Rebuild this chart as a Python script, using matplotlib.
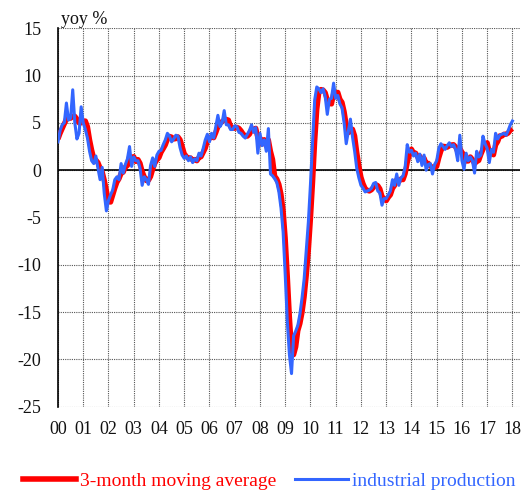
import numpy as np
import matplotlib
matplotlib.use("Agg")
import matplotlib.pyplot as plt
from matplotlib.lines import Line2D

plt.rcParams['font.family'] = ['Liberation Serif', 'DejaVu Serif']

start_year = 2000
year_labels = ['00', '01', '02', '03', '04', '05', '06', '07', '08', '09',
               '10', '11', '12', '13', '14', '15', '16', '17', '18']
y_ticks = [15, 10, 5, 0, -5, -10, -15, -20, -25]

# monthly industrial production, yoy % (Jan 2000 - Jan 2018)
industrial_production = [
    3.0, 4.2, 4.8, 5.0, 7.1, 5.3, 5.5, 8.5, 5.0, 3.3, 3.9, 6.7,
    5.0, 4.3, 3.4, 2.0, 1.0, 0.7, 1.5, 0.2, -1.0, 0.3, -2.5, -4.3,
    -3.2, -2.6, -2.1, -1.0, -0.7, -1.0, 0.7, -0.3, 0.6, 1.2, 2.5, 0.4,
    1.4, 1.0, 1.0, 0.2, -1.6, -0.7, -1.0, -1.5, 0.5, 1.3, 0.4, 1.6,
    2.0, 2.1, 2.7, 3.2, 3.9, 3.6, 3.0, 3.3, 3.7, 3.6, 2.4, 1.6,
    1.25, 1.5, 1.0, 1.4, 0.8, 1.2, 1.0, 1.8, 1.5, 2.3, 3.2, 3.8,
    3.0, 3.9, 3.4, 4.6, 5.8, 4.6, 5.0, 6.3, 4.8, 4.8, 4.3, 4.3,
    4.7, 4.6, 4.0, 3.9, 3.6, 3.4, 3.8, 4.2, 4.8, 4.0, 4.5, 1.8,
    3.9, 2.6, 3.2, 2.0, 4.4, -0.4, -0.6, -0.9, -1.3, -2.3, -4.0, -6.5,
    -11.0, -16.0, -19.5, -21.5, -17.5, -17.0, -16.4, -15.2, -13.5, -11.5, -8.5, -5.5,
    -1.5, 3.0, 7.4, 8.8, 8.6, 8.2, 8.6, 7.8, 5.9, 7.5, 7.6, 9.2,
    7.6, 7.9, 7.0, 6.6, 5.0, 2.8, 4.1, 5.4, 3.5, 2.0, 0.2, -0.8,
    -1.6, -1.9, -2.3, -2.2, -2.1, -1.9, -1.4, -1.3, -2.2, -2.4, -3.7, -3.0,
    -3.0, -2.6, -2.2, -1.0, -1.6, -0.4, -1.6, -0.8, -0.6, 0.3, 2.7, 1.9,
    2.1, 1.5, 1.8, 0.9, 1.7, 0.5, 1.6, 0.0, 0.6, 0.7, -0.4, 0.6,
    1.0, 2.3, 2.8, 2.5, 2.2, 2.6, 2.9, 2.5, 2.7, 2.2, 1.0, 3.7,
    1.0, 0.1, 1.8, 1.0, 1.4, 1.0, -0.3, 2.0, 1.4, 1.6, 3.6, 2.8,
    2.3, 0.8, 2.2, 1.9, 3.9, 3.3, 3.7, 3.8, 3.9, 3.7, 4.2, 4.8,
    5.2,
]

# 3-month moving average, yoy %
moving_average_3m = [
    3.3, 3.9, 4.4, 4.9, 5.4, 5.5, 5.5, 5.7, 5.7, 5.4, 5.0, 5.0,
    5.2, 5.2, 4.6, 3.23, 2.13, 1.23, 1.07, 0.8, 0.23, -0.17, -1.07, -2.17,
    -3.33, -3.37, -2.63, -1.9, -1.27, -0.9, -0.33, -0.2, 0.33, 0.5, 1.43, 1.37,
    1.43, 0.93, 1.13, 0.73, -0.13, -0.7, -1.1, -1.07, -0.67, 0.1, 0.73, 1.1,
    1.33, 1.9, 2.27, 2.67, 3.27, 3.57, 3.5, 3.3, 3.33, 3.53, 3.23, 2.53,
    1.75, 1.45, 1.25, 1.3, 1.07, 1.13, 1.0, 1.33, 1.43, 1.87, 2.33, 3.1,
    3.33, 3.57, 3.43, 3.97, 4.6, 5.0, 5.13, 5.3, 5.37, 5.3, 4.63, 4.47,
    4.43, 4.53, 4.43, 4.17, 3.83, 3.63, 3.6, 3.8, 4.27, 4.33, 4.43, 3.43,
    3.4, 2.77, 3.23, 2.6, 3.2, 2.0, 1.13, -0.63, -0.93, -1.5, -2.53, -4.27,
    -7.17, -11.17, -15.5, -19.0, -19.5, -18.67, -16.97, -16.2, -15.03, -13.4, -11.17, -8.5,
    -5.17, -1.33, 2.97, 6.4, 8.27, 8.53, 8.47, 8.2, 7.43, 7.07, 7.0, 8.1,
    8.13, 8.23, 7.5, 7.17, 6.2, 4.8, 3.97, 4.1, 4.33, 3.63, 1.9, 0.47,
    -0.73, -1.43, -1.93, -2.13, -2.2, -2.07, -1.8, -1.53, -1.63, -1.97, -2.77, -3.03,
    -3.23, -2.87, -2.6, -1.93, -1.6, -1.0, -1.2, -0.93, -1.0, -0.37, 0.8, 1.63,
    2.23, 1.83, 1.8, 1.4, 1.47, 1.03, 1.27, 0.7, 0.73, 0.43, 0.3, 0.3,
    0.4, 1.3, 2.03, 2.53, 2.5, 2.43, 2.57, 2.67, 2.7, 2.47, 1.97, 2.3,
    1.9, 1.6, 0.97, 0.97, 1.4, 1.13, 0.7, 0.9, 1.03, 1.67, 2.2, 2.67,
    2.9, 1.97, 1.77, 1.63, 2.67, 3.03, 3.63, 3.6, 3.8, 3.8, 3.93, 4.23,
    4.4,
]

RED = '#ff0000'
BLUE = '#3366ff'

x = start_year + np.arange(len(industrial_production)) / 12.0

fig = plt.figure(figsize=(5.23, 4.90), dpi=100)
ax = fig.add_axes([58 / 523, 1 - 406.7 / 490, 462 / 523, (406.7 - 28.3) / 490])

ax.plot(x, moving_average_3m, color=RED, lw=3.8, solid_capstyle='butt', zorder=3)
ax.plot(x, industrial_production, color=BLUE, lw=2.2, zorder=4)

ax.set_xlim(2000, 2018.3)
ax.set_ylim(-25, 15)
years = start_year + np.arange(len(year_labels))
ax.set_xticks(years)
ax.set_xticklabels(year_labels)
ax.set_yticks(y_ticks)
ax.set_yticklabels([str(v) for v in y_ticks])

ax.grid(True, color='#555555', linestyle=(0, (1, 1)), linewidth=0.8)
ax.axhline(0, color='black', lw=1.2, zorder=2)
for s in ['top', 'right', 'bottom']:
    ax.spines[s].set_visible(False)
ax.spines['left'].set_color('black')
ax.spines['left'].set_linewidth(1.2)
ax.tick_params(axis='both', length=0, labelsize=13, colors='#111111')
ax.tick_params(axis='y', pad=12)
ax.tick_params(axis='x', pad=10)

fig.text(61 / 523, 1 - 24 / 490, 'yoy %', fontsize=13, color='#111111', ha='left', va='baseline')

handles = [Line2D([], [], color=RED, lw=4), Line2D([], [], color=BLUE, lw=2.2)]
leg = fig.legend(handles, ['3-month moving average', 'industrial production'],
                 loc='center', bbox_to_anchor=(0.515, 0.018), ncol=2, frameon=False,
                 fontsize=14, handlelength=2.7, handletextpad=0.2, columnspacing=1.0,
                 labelcolor=[RED, BLUE])

fig.savefig('out.png', dpi=100)
